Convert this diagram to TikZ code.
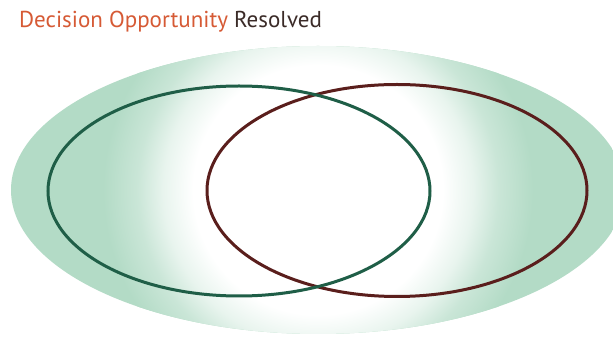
\documentclass[tikz,border=0pt]{standalone}
\usepackage{fontspec}
\setmainfont{PT Sans}
\definecolor{fillgreen}{HTML}{B3DBC6}
\definecolor{strokegreen}{HTML}{1F5E47}
\definecolor{strokered}{HTML}{5A1E1C}
\definecolor{titleorange}{HTML}{D65A35}
\definecolor{titledark}{HTML}{3B2B28}
\pgfdeclareradialshading{glow}{\pgfpoint{0bp}{0bp}}{color(0bp)=(white); color(14.5bp)=(white); color(18bp)=(fillgreen!30!white); color(21bp)=(fillgreen!70!white); color(25bp)=(fillgreen); color(50bp)=(fillgreen)}
\tikzset{ring/.style={line width=3pt}}
\begin{document}
\begin{tikzpicture}[x=1pt,y=-1pt]
\useasboundingbox (0,0) rectangle (613,344);
\fill[white] (0,0) rectangle (613,344);
\begin{scope}
\clip (318,190) ellipse [x radius=307, y radius=144];
\fill[fillgreen] (0,0) rectangle (640,344);
\shade[shading=glow] (318,190) circle [radius=215];
\end{scope}
\draw[ring,strokered] (397,190.5) ellipse [x radius=190, y radius=106];
\draw[ring,strokegreen] (239,191) ellipse [x radius=191, y radius=105];
\node[anchor=base west,inner sep=0,font=\fontsize{23}{27}\selectfont] (title) at (19,28) {\textcolor{titleorange}{Decision Opportunity} \textcolor{titledark}{Resolved}};
\end{tikzpicture}
\end{document}
